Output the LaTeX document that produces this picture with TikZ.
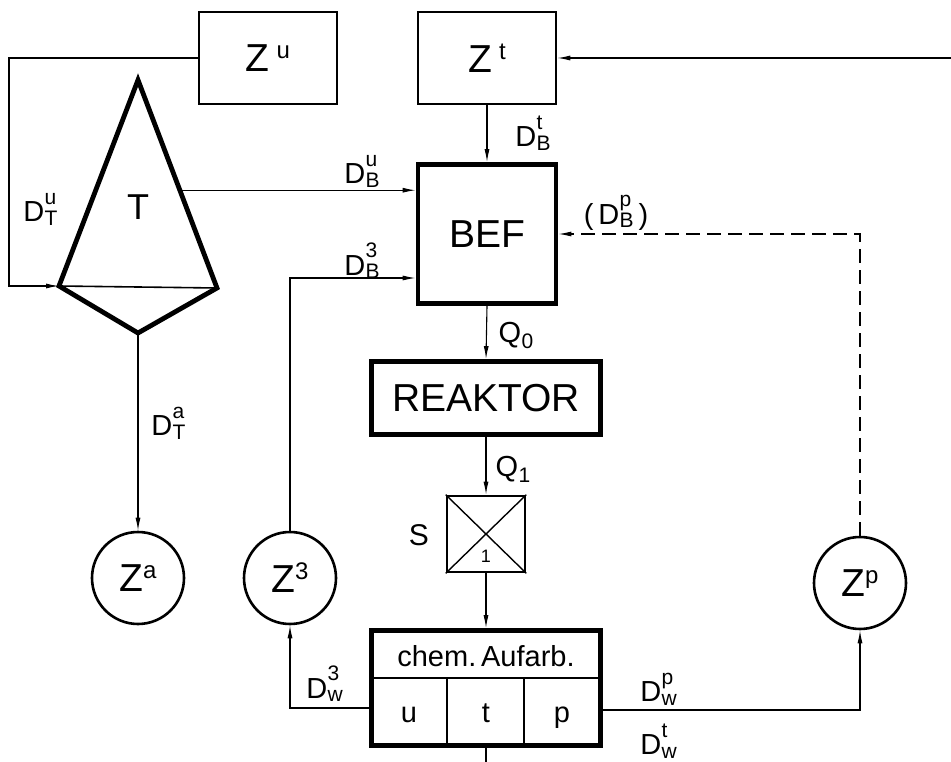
\documentclass[tikz,border=0pt]{standalone}
\usepackage{amsmath}
\usepackage{fontspec}
\setmainfont{Liberation Sans}
\usetikzlibrary{arrows.meta,positioning,calc}
\newcommand{\fbig}{\fontsize{39}{42}\selectfont}
\newcommand{\flbl}{\fontsize{29}{31}\selectfont}
\newcommand{\fsub}{\fontsize{21}{22}\selectfont}
\newcommand{\fsup}{\fontsize{24}{26}\selectfont}
\newsavebox{\supbox}\newsavebox{\subbox}\newlength{\sswd}
% D mit hoch- und tiefgestelltem Index
\newcommand{\Dl}[2]{%
  \sbox{\supbox}{\fsub #1}\sbox{\subbox}{\fsub #2}%
  \setlength{\sswd}{\wd\supbox}\ifdim\wd\subbox>\sswd\setlength{\sswd}{\wd\subbox}\fi
  D\kern0.5pt\rlap{\raisebox{17.5pt}{\usebox{\supbox}}}\rlap{\raisebox{-3.5pt}{\usebox{\subbox}}}\hspace{\sswd}}
\newcommand{\Zs}[2][0pt]{Z\kern#1\raisebox{13pt}{\fsup #2}}
\newcommand{\Qs}[1]{Q\kern0.5pt\raisebox{-6pt}{\fsub #1}}
\tikzset{
  zbox/.style={draw,line width=2.6pt,minimum width=138pt,minimum height=92pt,inner sep=0pt,font=\fbig},
  hbox/.style={draw,line width=4.8pt,inner sep=0pt,font=\fbig},
  zcirc/.style={circle,draw,line width=2.6pt,minimum size=92pt,inner sep=0pt,font=\fbig},
  arr/.style={-{Latex[length=13pt,width=5pt]},line width=1.1pt},
  lbl/.style={font=\flbl,inner sep=0pt},
  cell/.style={font=\fontsize{29}{31}\selectfont,inner sep=0pt},
}
\begin{document}
\begin{tikzpicture}[x=1pt,y=-1pt]
  \useasboundingbox (0,0) rectangle (951,762);
  % quellen oben
  \node[zbox] (Zu) at (268,58) {\Zs[7pt]{u}};
  \node[zbox] (Zt) at (487,58) {\Zs[7pt]{t}};
  \node[hbox,minimum width=138pt,minimum height=139pt] (BEF) at (487,234) {BEF};
  \node[hbox,minimum width=229pt,minimum height=73pt] (REAK) at (486,398) {REAKTOR};
  \node[draw,line width=2.6pt,minimum width=78pt,minimum height=76pt] (S) at (486,534) {};
  \draw[line width=1.4pt] (S.north west) -- (S.south east) (S.north east) -- (S.south west);
  \node[font=\fontsize{18}{19}\selectfont,inner sep=0pt] (S1) at (486,556) {1};
  \node[font=\fontsize{30}{32}\selectfont,inner sep=0pt] (Slbl) at (419,535) {S};
  % chem. Aufarbeitung
  \node[hbox,minimum width=229pt,minimum height=115pt] (chem) at (486,688) {};
  \draw[line width=2pt] (371,678) -- (601,678);
  \draw[line width=2pt] (447,678) -- (447,746) (524,678) -- (524,746);
  \node[cell] (chemt) at (486,656) {chem.\,Aufarb.};
  \node[cell,anchor=base] (cu) at (409,722) {u};
  \node[cell,anchor=base] (ct) at (486,722) {t};
  \node[cell,anchor=base] (cp) at (562,722) {p};
  % turm
  \coordinate (tapex) at (138,80);
  \coordinate (tleft) at (59,286);
  \coordinate (tright) at (217,288);
  \coordinate (tbot) at (138,333);
  \draw[line width=4.8pt,line join=miter] (tleft) -- (tapex) -- (tright) -- (tbot) -- cycle;
  \draw[line width=1.6pt] (tleft) -- (tright);
  \node[font=\fontsize{36}{38}\selectfont,inner sep=0pt] (T) at (138,207) {T};
  % senken
  \node[zcirc] (Za) at (138,578) {\Zs{a}};
  \node[zcirc] (Z3) at (290,578) {\Zs{3}};
  \node[zcirc] (Zp) at (860,583) {\Zs{p}};
  % verbindungen
  \coordinate (inR) at (951,58);
  \coordinate (cUl) at (9,286);
  \coordinate (tside) at ($(tapex)!0.53!(tright)$);
  \coordinate (outB) at (486,762);
  \draw[arr] (inR) -- (Zt.east);
  \draw[arr] (Zt.south) -- (BEF.north);
  \draw[arr] (Zu.west) -| (cUl) -- (tleft);
  \draw[arr] (tside) -- (tside -| BEF.west);
  \draw[arr] (Z3.north) |- ($(BEF.west)+(0,44)$);
  \draw[arr,dash pattern=on 14pt off 7pt] (Zp.north) |- (BEF.east);
  \draw[arr] (BEF.south) -- (REAK.north);
  \draw[arr] (REAK.south) -- (S.north);
  \draw[arr] (S.south) -- (chem.north);
  \draw[arr] (tbot) -- (Za.north);
  \draw[arr] ($(chem.west)+(0,20)$) -| (Z3.south);
  \draw[arr] ($(chem.east)+(0,22)$) -| (Zp.south);
  \draw[line width=1.1pt] (chem.south) -- (outB);
  % beschriftungen
  \node[lbl] (lTu) at (34,209) {\Dl{u}{T}};
  \node[lbl] (lBu) at (355,171) {\Dl{u}{B}};
  \node[lbl] (lBt) at (526,133) {\Dl{t}{B}};
  \node[lbl] (lBp) at (616,213) {(\,\Dl{p}{B}\,)};
  \node[lbl] (lB3) at (355,261) {\Dl{3}{B}};
  \node[lbl] (lQ0) at (516,335) {\Qs{0}};
  \node[lbl] (lQ1) at (513,469) {\Qs{1}};
  \node[lbl] (lTa) at (162,423) {\Dl{a}{T}};
  \node[lbl] (lw3) at (317,684) {\Dl{3}{w}};
  \node[lbl] (lwp) at (651,689) {\Dl{p}{w}};
  \node[lbl] (lwt) at (651,741) {\Dl{t}{w}};
\end{tikzpicture}
\end{document}
